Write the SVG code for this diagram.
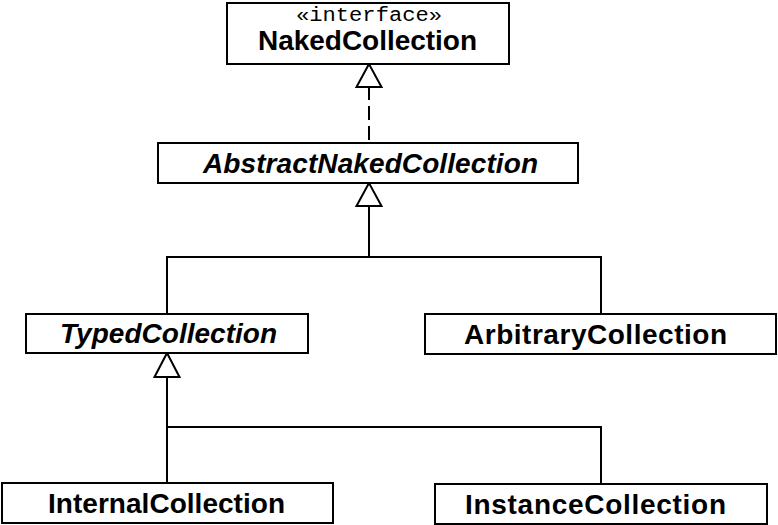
<svg xmlns="http://www.w3.org/2000/svg" width="778" height="525" viewBox="0 0 778 525">
<style>
.box{fill:#fff;stroke:#000;stroke-width:2}
.name{font-family:"Liberation Sans",Arial,sans-serif;font-weight:bold;font-size:28px;text-anchor:middle;fill:#000}
.abs{font-style:italic}
.stereo{font-family:"Liberation Mono","Courier New",monospace;font-size:20px;text-anchor:middle;fill:#000}
.line{fill:none;stroke:#000;stroke-width:2}
.dash{stroke-dasharray:14 6}
.head{fill:#fff;stroke:#000;stroke-width:2;stroke-linejoin:miter}
</style>
<rect width="778" height="525" fill="#fff"/>
<g id="connectors">
  <line class="line dash" x1="369" y1="86" x2="369" y2="143"/>
  <polygon class="head" points="369,64 356.5,87 381.5,87"/>
  <polyline class="line" points="369,206 369,257"/>
  <polyline class="line" points="167,314 167,257 601,257 601,314"/>
  <polygon class="head" points="369,183 356.5,206 381.5,206"/>
  <polyline class="line" points="167,377 167,483"/>
  <polyline class="line" points="167,427 601,427 601,484"/>
  <polygon class="head" points="167,353 154.5,377 179.5,377"/>
</g>
<g id="NakedCollection">
  <rect class="box" x="227" y="3" width="282" height="61"/>
  <text class="stereo" x="369" y="21" textLength="146" lengthAdjust="spacingAndGlyphs">«interface»</text>
  <text class="name" x="367.5" y="50" textLength="219" lengthAdjust="spacing">NakedCollection</text>
</g>
<g id="AbstractNakedCollection">
  <rect class="box" x="158" y="143" width="420" height="40"/>
  <text class="name abs" x="370.5" y="173" textLength="335" lengthAdjust="spacing">AbstractNakedCollection</text>
</g>
<g id="TypedCollection">
  <rect class="box" x="26" y="314" width="282" height="39"/>
  <text class="name abs" x="168.5" y="343" textLength="217" lengthAdjust="spacing">TypedCollection</text>
</g>
<g id="ArbitraryCollection">
  <rect class="box" x="425" y="314" width="351" height="40"/>
  <text class="name" x="595.5" y="344" textLength="263" lengthAdjust="spacing">ArbitraryCollection</text>
</g>
<g id="InternalCollection">
  <rect class="box" x="2" y="483" width="331" height="40"/>
  <text class="name" x="166.5" y="513" textLength="237" lengthAdjust="spacing">InternalCollection</text>
</g>
<g id="InstanceCollection">
  <rect class="box" x="435" y="484" width="332" height="40"/>
  <text class="name" x="595.5" y="514" textLength="261" lengthAdjust="spacing">InstanceCollection</text>
</g>
</svg>
